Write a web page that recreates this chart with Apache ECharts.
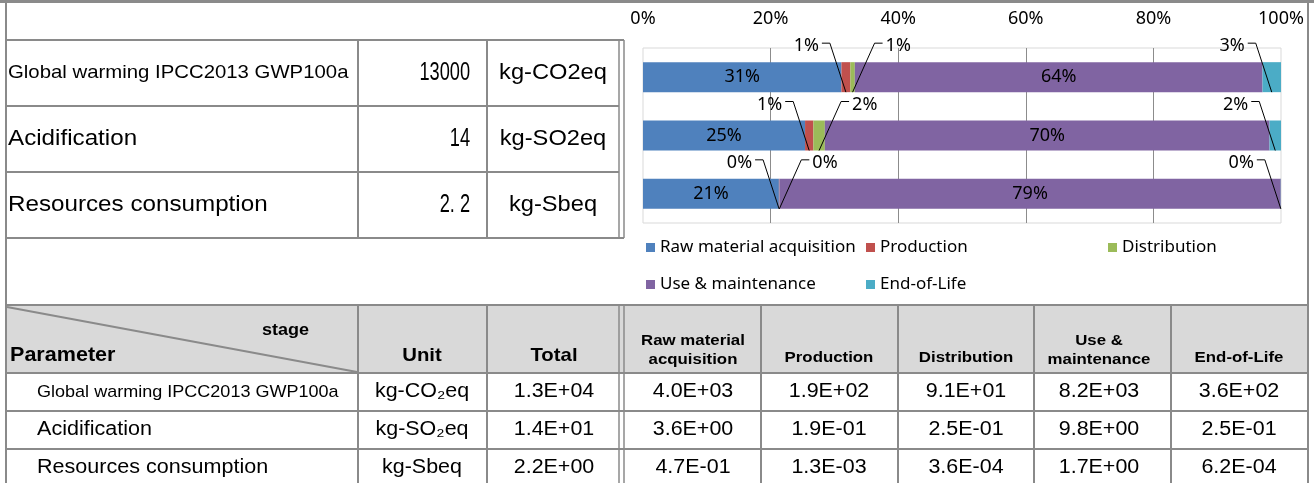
<!DOCTYPE html>
<html lang="en">
<head>
    <meta charset="UTF-8">
    <script src="https://cdn.jsdelivr.net/npm/echarts@6.0.0/dist/echarts.min.js"></script>
    <title>LCA stages</title>
</head>
<body style="margin: 0; background: #fff">
<div id="container" style="width: 1314px; height: 483px"></div>

<script>
    // 数据
    var categories = ['Global warming', 'Acidification', 'Resources consumption'];
    var stages = ['Raw material acquisition', 'Production', 'Distribution', 'Use & maintenance', 'End-of-Life'];
    var colors = ['#4f81bd', '#c0504d', '#9bbb59', '#8064a2', '#4bacc6'];

    // share of each stage (%)
    var rawShare = [31.1, 25.4, 21.3];
    var prodShare = [1.4, 1.3, 0.06];
    var distShare = [0.7, 1.8, 0.02];
    var useShare = [63.9, 69.7, 78.58];
    var eolShare = [2.9, 1.8, 0.03];

    // table texts
    var paramNames = ['Global warming IPCC2013 GWP100a', 'Acidification', 'Resources consumption'];
    var topTotals = ['13000', '14', '2. 2'];
    var topUnits = ['kg-CO2eq', 'kg-SO2eq', 'kg-Sbeq'];
    var units = ['kg-CO\u2082eq', 'kg-SO\u2082eq', 'kg-Sbeq'];
    var totals = ['1.3E+04', '1.4E+01', '2.2E+00'];
    var rawVals = ['4.0E+03', '3.6E+00', '4.7E-01'];
    var prodVals = ['1.9E+02', '1.9E-01', '1.3E-03'];
    var distVals = ['9.1E+01', '2.5E-01', '3.6E-04'];
    var useVals = ['8.2E+03', '9.8E+00', '1.7E+00'];
    var eolVals = ['3.6E+02', '2.5E-01', '6.2E-04'];

    var shares = [rawShare, prodShare, distShare, useShare, eolShare];
    // label side for small segments: 0 = inside, -1 = left leader, 1 = right leader
    var leaderSide = [0, -1, 1, 0, -1];

    var dom = document.getElementById("container");
    var myChart = echarts.init(dom, null, {renderer: 'canvas'});

    var FONT = '"Liberation Sans", Arial, sans-serif';
    var G = [];

    function line(x1, y1, x2, y2, w) {
        G.push({type: 'line', silent: true, shape: {x1: x1, y1: y1, x2: x2, y2: y2},
            style: {stroke: '#8a8a8a', lineWidth: w || 2}});
    }

    function txt(s, x, y, size, o) {
        o = o || {};
        G.push({type: 'text', silent: true, x: x, y: y, scaleX: o.sx || 1.1,
            style: {text: s, x: 0, y: 0, align: o.align || 'center', verticalAlign: 'middle',
                font: (o.bold ? 'bold ' : '') + size + 'px ' + FONT, fill: '#000'}});
    }

    // header fill
    G.push({type: 'rect', silent: true, shape: {x: 7, y: 306, width: 1300, height: 67}, style: {fill: '#d9d9d9'}});

    // outer frame
    line(0, 1.5, 1314, 1.5, 3);
    line(6, 0, 6, 483);
    line(1308, 0, 1308, 483);

    // top-left table
    line(6, 40, 624, 40);
    line(6, 106, 619, 106);
    line(6, 172, 619, 172);
    line(6, 238, 624, 238);
    line(358, 40, 358, 238);
    line(487, 40, 487, 238);
    line(619, 40, 619, 238, 1.5);
    line(624, 40, 624, 238, 1.5);

    // bottom table
    [305, 373, 411, 449].forEach(function (y) { line(6, y, 1308, y); });
    [358, 487, 761, 898, 1034, 1171].forEach(function (x) { line(x, 305, x, 483); });
    line(619, 305, 619, 483, 1.5);
    line(624, 305, 624, 483, 1.5);
    line(7, 307, 357, 372, 2);

    var topY = [73, 139, 205];
    var topSize = [18.5, 22, 22];
    var rowY = [392, 430, 468];
    var rowSize = [16.4, 19.6, 19.6];
    for (var i = 0; i < 3; i++) {
        txt(paramNames[i], 8, topY[i], topSize[i], {align: 'left'});
        txt(topTotals[i], 470, topY[i], 26, {align: 'right', sx: 0.7});
        txt(topUnits[i], 553, topY[i], 21.5);

        txt(paramNames[i], 37, rowY[i], rowSize[i], {align: 'left'});
        txt(units[i], 422, rowY[i], 19.5);
        txt(totals[i], 554, rowY[i], 19.5);
        txt(rawVals[i], 693, rowY[i], 19.5);
        txt(prodVals[i], 829, rowY[i], 19.5);
        txt(distVals[i], 966, rowY[i], 19.5);
        txt(useVals[i], 1099, rowY[i], 19.5);
        txt(eolVals[i], 1239, rowY[i], 19.5);
    }

    // header texts
    txt('stage', 309, 330, 16.4, {align: 'right', bold: true});
    txt('Parameter', 10, 356, 19.6, {align: 'left', bold: true});
    txt('Unit', 422, 356, 18.5, {bold: true});
    txt('Total', 554, 356, 18.5, {bold: true});
    txt('Raw material', 693, 341, 15.3, {bold: true});
    txt('acquisition', 693, 360, 15.3, {bold: true});
    txt('Production', 829, 358, 15.3, {bold: true});
    txt('Distribution', 966, 358, 15.3, {bold: true});
    txt('Use &', 1099, 341, 15.3, {bold: true});
    txt('maintenance', 1099, 360, 15.3, {bold: true});
    txt('End-of-Life', 1239, 358, 15.3, {bold: true});

    // leader-line labels for the thin segments
    var leaderData = [];
    for (var c = 0; c < categories.length; c++) {
        var acc = 0;
        for (var s = 0; s < shares.length; s++) {
            var v = shares[s][c];
            if (leaderSide[s] !== 0) {
                leaderData.push([acc + v / 2, c, leaderSide[s], v]);
            }
            acc += v;
        }
    }

    var series = stages.map(function (name, k) {
        return {
            name: name,
            type: 'bar',
            stack: 'total',
            barWidth: 30,
            data: shares[k],
            itemStyle: {color: colors[k]},
            label: {
                show: true,
                position: 'inside',
                color: '#000',
                fontFamily: 'Noto Sans',
                fontSize: 18,
                formatter: function (p) {
                    return p.value >= 10 ? Math.round(p.value) + '%' : '';
                }
            }
        };
    });

    series.push({
        type: 'custom',
        z: 5,
        silent: true,
        data: leaderData,
        encode: {x: 0, y: 1},
        renderItem: function (params, api) {
            var p = api.coord([api.value(0), api.value(1)]);
            var side = api.value(2);
            var bottom = p[1] + 15;
            var ty = p[1] - 31;
            var cx = p[0] + (side < 0 ? -16 : 22);
            var hx = cx + side * 8;
            return {
                type: 'group',
                children: [{
                    type: 'polyline',
                    shape: {points: [[p[0], bottom], [cx, ty - 3], [hx, ty - 3]]},
                    style: {stroke: '#000', fill: 'none', lineWidth: 1}
                }, {
                    type: 'text',
                    style: {
                        x: hx + side * 3, y: ty, text: Math.round(api.value(3)) + '%',
                        align: side < 0 ? 'right' : 'left', verticalAlign: 'middle',
                        font: '18px "Noto Sans"', fill: '#000'
                    }
                }]
            };
        }
    });

    var legendX = [646, 866, 1108, 646, 866];
    var legendY = [239, 239, 239, 276, 276];

    var option = {
        animation: false,
        backgroundColor: '#fff',
        grid: {
            left: 643, right: 33, top: 48, height: 175,
            show: true, borderColor: '#d9d9d9', borderWidth: 1, backgroundColor: 'transparent'
        },
        legend: stages.map(function (name, k) {
            return {
                data: [name],
                left: legendX[k],
                top: legendY[k],
                padding: 0,
                icon: 'rect',
                itemWidth: 9,
                itemHeight: 9,
                selectedMode: false,
                textStyle: {fontFamily: 'Noto Sans', fontSize: 17, color: '#000'}
            };
        }),
        xAxis: {
            type: 'value',
            position: 'top',
            min: 0,
            max: 100,
            interval: 20,
            axisLine: {show: false},
            axisTick: {show: false},
            axisLabel: {formatter: '{value}%', fontFamily: 'Noto Sans', fontSize: 18, color: '#000', margin: 20},
            splitLine: {show: true, showMinLine: false, showMaxLine: false, lineStyle: {color: '#8c8c8c'}}
        },
        yAxis: {
            type: 'category',
            inverse: true,
            data: categories,
            axisLine: {show: false},
            axisTick: {show: false},
            axisLabel: {show: false}
        },
        series: series,
        graphic: {elements: G}
    };

    myChart.setOption(option);
</script>
</body>
</html>
